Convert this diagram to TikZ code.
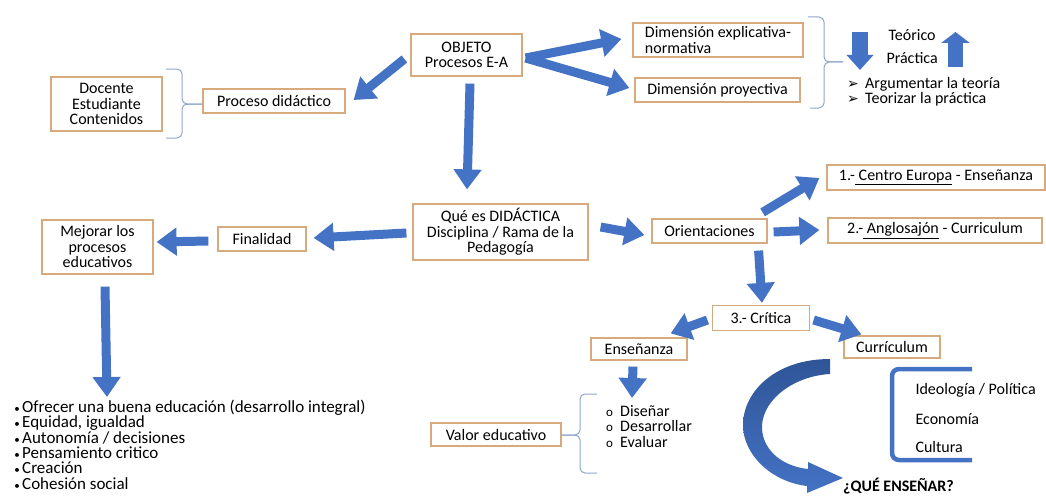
\documentclass[tikz,border=0pt]{standalone}
\usepackage{fontspec}
\setmainfont{Carlito}
\newfontfamily\simbolos{DejaVu Sans}
\usetikzlibrary{arrows.meta}
\definecolor{azul}{RGB}{68,114,196}
\definecolor{azuloscuro}{RGB}{47,85,151}
\definecolor{borde}{RGB}{214,170,125}
\definecolor{llavegris}{RGB}{143,164,204}
\newcommand{\letra}{\fontsize{16}{15.5}\selectfont\lineskiplimit-20pt\relax}

\begin{document}
\begin{tikzpicture}[x=1pt, y=-1pt,
  every node/.style={font=\letra},
  caja/.style={draw=borde, line width=1.2pt, fill=white, inner sep=2pt, align=center},
  flecha/.style={draw=azul, line width=9pt, -{Triangle[width=27pt,length=20pt]}},
  llave/.style={draw=llavegris, line width=1pt, rounded corners=5pt}]
\useasboundingbox (0,0) rectangle (1046,495);

% cajas de arriba
\node[caja, minimum width=111pt, minimum height=42pt] (obj) at (466.5,55) {OBJETO\\Procesos E-A};
\node[caja, align=left, minimum width=170pt, minimum height=34pt] (dimexp) at (718,40) {Dimensión explicativa-\\normativa};
\node[caja, minimum width=165pt, minimum height=24pt] (dimproy) at (717.5,90) {Dimensión proyectiva};
\node[caja, minimum width=111pt, minimum height=54pt] (docente) at (106.5,104) {Docente\\Estudiante\\Contenidos};
\node[caja, minimum width=142pt, minimum height=24pt] (proc) at (274,101) {Proceso didáctico};

% teoria / practica
\node[anchor=west] (teorico) at (885,35) {Teórico};
\node[anchor=west] (practica) at (883,58) {Práctica};
\node[anchor=north west, align=left, inner sep=0pt] (argumentos) at (847,77)
  {\makebox[18pt][l]{\simbolos\fontsize{14}{14}\selectfont ➢}Argumentar la teoría\\
   \makebox[18pt][l]{\simbolos\fontsize{14}{14}\selectfont ➢}Teorizar la práctica};
\draw[azul, line width=16pt, -{Triangle[width=26pt,length=15pt]}] (860,32) -- (860,70);
\draw[azul, line width=15pt, -{Triangle[width=28pt,length=11pt]}] (955.5,67) -- (955.5,32);

% fila central
\node[caja, minimum width=175pt, minimum height=56pt] (didac) at (500.5,232) {Qué es DIDÁCTICA\\Disciplina / Rama de la\\Pedagogía};
\node[caja, minimum width=115pt, minimum height=24pt] (orient) at (709.5,231) {Orientaciones};
\node[caja, minimum width=88pt, minimum height=24pt] (final) at (262,239) {Finalidad};
\node[caja, minimum width=111pt, minimum height=54pt] (mejorar) at (97.5,247) {Mejorar los\\procesos\\educativos};
\node[caja, minimum width=218pt, minimum height=25pt] (europa) at (936,177.5) {1.-\underline{ Centro Europa} - Enseñanza};
\node[caja, minimum width=214pt, minimum height=25pt] (anglo) at (935,230.5) {2.-\underline{ Anglosajón} - Curriculum};

% fila de abajo
\node[caja, minimum width=97pt, minimum height=25pt] (critica) at (761,318) {3.- Crítica};
\node[caja, minimum width=96pt, minimum height=22pt] (ensen) at (639,349) {Enseñanza};
\node[caja, minimum width=96pt, minimum height=22pt] (curric) at (892,347) {Currículum};
\node[caja, minimum width=130pt, minimum height=23pt] (valor) at (496,434.5) {Valor educativo};

\node[anchor=north west, align=left, inner sep=0pt, font=\fontsize{17}{15.3}\selectfont\lineskiplimit-20pt\relax] (logros) at (12,400)
  {\makebox[10pt][c]{\fontsize{11}{11}\selectfont •}Ofrecer una buena educación (desarrollo integral)\\
   \makebox[10pt][c]{\fontsize{11}{11}\selectfont •}Equidad, igualdad\\
   \makebox[10pt][c]{\fontsize{11}{11}\selectfont •}Autonomía / decisiones\\
   \makebox[10pt][c]{\fontsize{11}{11}\selectfont •}Pensamiento critico\\
   \makebox[10pt][c]{\fontsize{11}{11}\selectfont •}Creación\\
   \makebox[10pt][c]{\fontsize{11}{11}\selectfont •}Cohesión social};
\node[anchor=north west, align=left, inner sep=0pt] (pasos) at (606,405)
  {\makebox[14pt][l]{\fontsize{13}{13}\selectfont o}Diseñar\\
   \makebox[14pt][l]{\fontsize{13}{13}\selectfont o}Desarrollar\\
   \makebox[14pt][l]{\fontsize{13}{13}\selectfont o}Evaluar};
\node[anchor=west] (ideologia) at (912,390) {Ideología / Política};
\node[anchor=west] (economia) at (912,419) {Economía};
\node[anchor=west] (cultura) at (912,447) {Cultura};
\node[anchor=base west, inner sep=0pt, font=\letra\bfseries] (quee) at (843,491) {¿QUÉ ENSEÑAR?};

% llaves
\draw[llave] (166,69) -- (182,69) -- (182,104) -- (202,104);
\draw[llave] (166,138) -- (182,138) -- (182,104) -- (202,104);
\draw[llave] (808,17) -- (824,17) -- (824,62) -- (843,62);
\draw[llave] (810,108) -- (824,108) -- (824,62) -- (843,62);
\draw[llave] (597,394) -- (580,394) -- (580,435) -- (561,435);
\draw[llave] (597,473) -- (580,473) -- (580,435) -- (561,435);
\draw[azul, line width=4.5pt, rounded corners=7pt] (972,369) -- (892,369) -- (892,460) -- (972,460);

% flecha curva
\shade[top color=azuloscuro, bottom color=azul]
  (830,359) .. controls (775,359) and (743,392) .. (743,425)
  .. controls (743,455) and (772,482) .. (807,486)
  -- (807,493) -- (843,478) -- (808,462) -- (808,469)
  .. controls (780,466) and (761,448) .. (762,425)
  .. controls (764,398) and (795,376) .. (830,374) -- cycle;

% flechas
\draw[flecha] ([shift={(-6,4)}]obj.west) -- ([shift={(8,-1)}]proc.east);
\draw[flecha] ([shift={(3,3)}]obj.east) -- ([shift={(-11,-1)}]dimexp.west);
\draw[flecha] ([shift={(3,3)}]obj.east) -- ([shift={(-5,-2)}]dimproy.west);
\draw[flecha] ([shift={(3.5,7)}]obj.south) -- ([shift={(-33.5,-14)}]didac.north);
\draw[flecha] ([shift={(-6,1)}]didac.west) -- ([shift={(7,-1)}]final.east);
\draw[flecha] ([shift={(-9,2)}]final.west) -- ([shift={(3,-5)}]mejorar.east);
\draw[flecha] ([shift={(7.5,12)}]mejorar.south) -- ([shift={(95,-3)}]logros.north west);
\draw[flecha] ([shift={(12,-5)}]didac.east) -- ([shift={(-7,4)}]orient.west);
\draw[flecha] ([shift={(-5,-6)}]orient.north east) -- ([shift={(-7,0.5)}]europa.west);
\draw[flecha] ([shift={(6,1)}]orient.east) -- ([shift={(-8,-0.5)}]anglo.west);
\draw[flecha] ([shift={(-9,7)}]orient.south east) -- ([shift={(1,-2)}]critica.north);
\draw[flecha] ([shift={(-4.5,2)}]critica.west) -- ([shift={(-17,-4)}]ensen.north east);
\draw[flecha] ([shift={(3.5,2)}]critica.east) -- ([shift={(18,-1)}]curric.north west);
\draw[flecha] ([shift={(-6,6)}]ensen.south) -- ([shift={(26,-7)}]pasos.north west);
\end{tikzpicture}
\end{document}
